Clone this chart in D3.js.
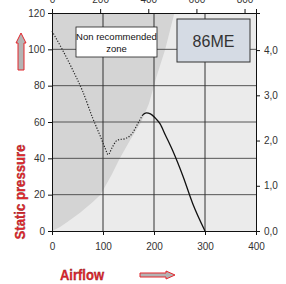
<!DOCTYPE html>
<html>
<head>
<meta charset="utf-8">
<script src="https://cdn.jsdelivr.net/npm/d3@7"></script>
<style>
  body { margin: 0; background: #fff; }
  svg { display: block; }
  .tick text { font-family: "Liberation Sans", Arial, sans-serif; font-size: 10px; fill: #333; }
</style>
</head>
<body>
<svg></svg>
<script>
// airflow (l/s) vs static pressure (Pa)
const unstableFlow = [0, 20, 40, 60, 80, 95, 105, 110, 118, 128, 145, 158, 168, 178]
const unstablePressure = [110, 100, 89, 77, 62, 52, 45, 42, 46, 50, 51, 54, 59, 64]
const stableFlow = [178, 185, 193, 203, 212, 222, 237, 257, 276, 300]
const stablePressure = [64, 65, 64.5, 62, 59, 53, 44, 30, 15, 0]

// boundary of the non recommended zone
const zoneFlow = [0, 15, 30, 55, 80, 95, 117, 133, 153, 175, 190, 205, 222, 240]
const zonePressure = [0, 2, 5, 10, 16, 20, 31, 40, 50, 60, 70, 85, 100, 120]

const xTicks = [0, 100, 200, 300, 400]
const yTicks = [0, 20, 40, 60, 80, 100, 120]
const topTicks = [0, 200, 400, 600, 800]
const rightTicks = [0, 1, 2, 3, 4]

const w = 286
const h = 284
const plotL = 52, plotR = 256, plotT = 13, plotB = 231

const svg = d3.select("svg").attr("width", w).attr("height", h)

const x = d3.scaleLinear().domain([0, 400]).range([plotL, plotR])
const y = d3.scaleLinear().domain([0, 120]).range([plotB, plotT])
const xTop = d3.scaleLinear().domain([0, 400 * 2.119]).range([plotL, plotR])
const yRight = d3.scaleLinear().domain([0, 4.82]).range([plotB, plotT])

//plot background
svg.append("rect")
    .attr("x", plotL).attr("y", plotT)
    .attr("width", plotR - plotL).attr("height", plotB - plotT)
    .attr("fill", "#ebebeb")

//non recommended zone
const zonePts = zoneFlow.map((f, i) => [x(f), y(zonePressure[i])])
zonePts.push([x(0), y(120)])
svg.append("path")
    .attr("d", d3.line().curve(d3.curveLinearClosed)(zonePts))
    .attr("fill", "#d4d4d4")

//grid
svg.append("g").selectAll("line")
    .data([20, 40, 60, 80, 100])
    .join("line")
    .attr("x1", plotL).attr("x2", plotR)
    .attr("y1", d => y(d)).attr("y2", d => y(d))
    .attr("stroke", "#555").attr("stroke-width", 1)

svg.append("g").selectAll("line")
    .data([100, 200, 300])
    .join("line")
    .attr("x1", d => x(d)).attr("x2", d => x(d))
    .attr("y1", plotT).attr("y2", plotB)
    .attr("stroke", "#333").attr("stroke-width", 1)

//axes
const bottomAxis = d3.axisBottom(x).tickValues(xTicks).tickSize(4).tickPadding(8)
const leftAxis = d3.axisLeft(y).tickValues(yTicks).tickSize(4).tickPadding(3)
const topAxis = d3.axisTop(xTop).tickValues(topTicks).tickSize(4).tickPadding(6)
const rightAxis = d3.axisRight(yRight).tickValues(rightTicks).tickSize(4).tickPadding(4)
    .tickFormat(d => d3.format(".1f")(d).replace(".", ","))

svg.append("g").attr("transform", `translate(0, ${plotB})`).call(bottomAxis)
svg.append("g").attr("transform", `translate(${plotL}, 0)`).call(leftAxis)
svg.append("g").attr("transform", `translate(0, ${plotT})`).call(topAxis)
svg.append("g").attr("transform", `translate(${plotR}, 0)`).call(rightAxis)

svg.selectAll(".domain").attr("stroke", "#111")
svg.selectAll(".tick line").attr("stroke", "#111")

//fan curve
const line = d3.line().curve(d3.curveMonotoneX)
svg.append("path")
    .attr("d", line(unstableFlow.map((f, i) => [x(f), y(unstablePressure[i])])))
    .attr("fill", "none")
    .attr("stroke", "#222")
    .attr("stroke-width", 1.2)
    .attr("stroke-dasharray", "1.2,1.6")

svg.append("path")
    .attr("d", line(stableFlow.map((f, i) => [x(f), y(stablePressure[i])])))
    .attr("fill", "none")
    .attr("stroke", "#111")
    .attr("stroke-width", 1.3)

//non recommended label
svg.append("rect")
    .attr("x", 76).attr("y", 27).attr("width", 81).attr("height", 30)
    .attr("fill", "#fff").attr("stroke", "#222").attr("stroke-width", 0.8)
svg.append("text")
    .attr("x", 116.5).attr("y", 39.5)
    .attr("text-anchor", "middle")
    .style("font-family", "Liberation Sans, Arial, sans-serif")
    .style("font-size", "9.5px").attr("fill", "#111")
    .text("Non recommended")
svg.append("text")
    .attr("x", 116.5).attr("y", 52)
    .attr("text-anchor", "middle")
    .style("font-family", "Liberation Sans, Arial, sans-serif")
    .style("font-size", "9.5px").attr("fill", "#111")
    .text("zone")

//model label
svg.append("rect")
    .attr("x", 177).attr("y", 19).attr("width", 73).attr("height", 43)
    .attr("fill", "#d5dbe4").attr("stroke", "#333").attr("stroke-width", 1)
svg.append("text")
    .attr("x", 213.5).attr("y", 47)
    .attr("text-anchor", "middle")
    .style("font-family", "Liberation Sans, Arial, sans-serif")
    .style("font-size", "16px").attr("fill", "#333")
    .text("86ME")

//axis titles
svg.append("text")
    .attr("transform", "translate(25, 192) rotate(-90)")
    .attr("text-anchor", "middle")
    .attr("textLength", 95).attr("lengthAdjust", "spacingAndGlyphs")
    .style("font-family", "Liberation Sans, Arial, sans-serif")
    .style("font-size", "14px").style("font-weight", "bold")
    .attr("fill", "#e3262d").attr("stroke", "#7a1a1a").attr("stroke-width", 0.3)
    .text("Static pressure")

svg.append("text")
    .attr("x", 60).attr("y", 280)
    .attr("textLength", 44).attr("lengthAdjust", "spacingAndGlyphs")
    .style("font-family", "Liberation Sans, Arial, sans-serif")
    .style("font-size", "15px").style("font-weight", "bold")
    .attr("fill", "#e3262d").attr("stroke", "#7a1a1a").attr("stroke-width", 0.3)
    .text("Airflow")

//arrows
svg.append("path")
    .attr("d", "M21,33 L26,43 L24,43 L24,70 L18,70 L18,43 L16,43 Z")
    .attr("fill", "#b4b4b4").attr("stroke", "#e3262d").attr("stroke-width", 1)
svg.append("path")
    .attr("d", "M140,273 L166,273 L166,271 L175,275 L166,279 L166,277 L140,277 Z")
    .attr("fill", "#b4b4b4").attr("stroke", "#e3262d").attr("stroke-width", 1)
</script>
</body>
</html>
